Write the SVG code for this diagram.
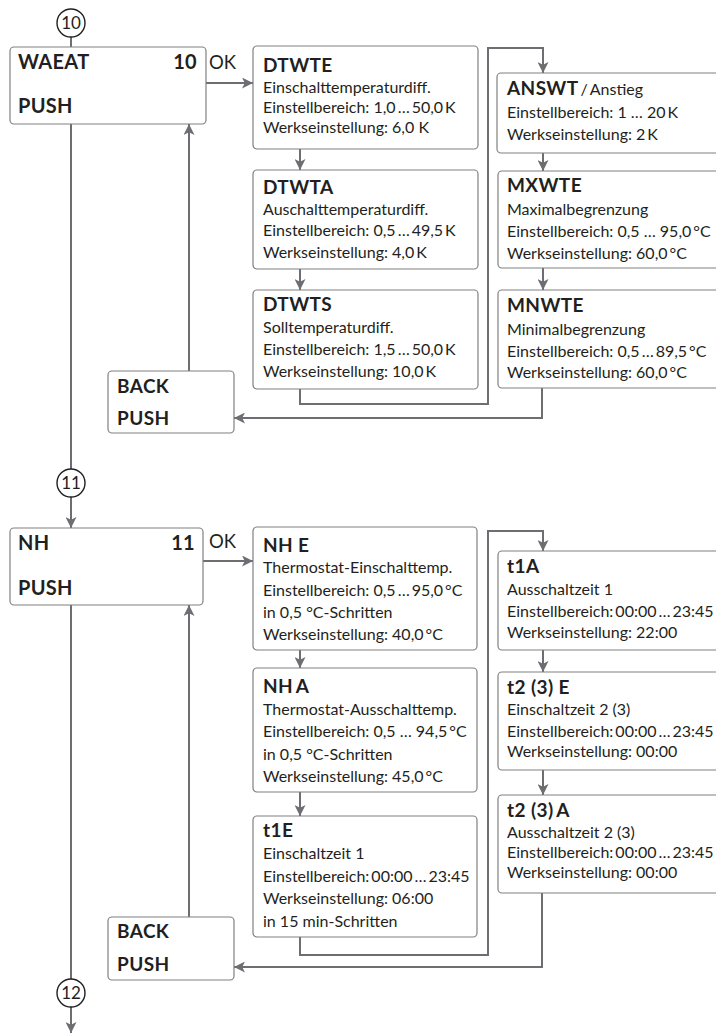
<svg xmlns="http://www.w3.org/2000/svg" width="716" height="1034" viewBox="0 0 716 1034">
<defs>
<style>
.box{fill:#fff;stroke:#808080;stroke-width:1.2}
.t{font-family:Lato,"Open Sans","Liberation Sans",sans-serif;font-size:16px;fill:#231f20}
.h{font-weight:bold;font-size:19px;letter-spacing:0.4px}
.big{font-weight:bold;font-size:20px;letter-spacing:0.3px}
.ok{font-size:18.5px}
.num{font-size:17px;text-anchor:middle}
.conn{fill:none;stroke:#6d6e71;stroke-width:2}
.thin{fill:none;stroke:#231f20;stroke-width:1.3}
.circ{fill:#fff;stroke:#231f20;stroke-width:1.4}
</style>
<marker id="ah" viewBox="0 0 10 10" refX="10" refY="5" markerWidth="11" markerHeight="11" markerUnits="userSpaceOnUse" orient="auto">
<path d="M0,0 L10,5 L0,10 L2.5,5 z" fill="#6d6e71"/>
</marker>
</defs>
<rect width="716" height="1034" fill="#fff"/>

<g id="connectors">
<line class="thin" x1="71" y1="37" x2="71" y2="47"/>
<line class="conn" x1="206" y1="83" x2="253" y2="83" marker-end="url(#ah)"/>
<line class="conn" x1="71" y1="124" x2="71" y2="469"/>
<line class="conn" x1="189" y1="371" x2="189" y2="124" marker-end="url(#ah)"/>
<line class="conn" x1="300" y1="149" x2="300" y2="170" marker-end="url(#ah)"/>
<line class="conn" x1="300" y1="269" x2="300" y2="290" marker-end="url(#ah)"/>
<path class="conn" d="M300,389 V404 H488 V48 H543 V73" marker-end="url(#ah)"/>
<line class="conn" x1="543" y1="153" x2="543" y2="171" marker-end="url(#ah)"/>
<line class="conn" x1="543" y1="268" x2="543" y2="290" marker-end="url(#ah)"/>
<path class="conn" d="M542,388 V418 H234" marker-end="url(#ah)"/>

<line class="conn" x1="71" y1="497" x2="71" y2="528" marker-end="url(#ah)"/>
<line class="conn" x1="203" y1="561" x2="253" y2="561" marker-end="url(#ah)"/>
<line class="conn" x1="71" y1="605" x2="71" y2="979"/>
<line class="conn" x1="189" y1="917" x2="189" y2="605" marker-end="url(#ah)"/>
<line class="conn" x1="300" y1="650" x2="300" y2="668" marker-end="url(#ah)"/>
<line class="conn" x1="300" y1="792" x2="300" y2="816" marker-end="url(#ah)"/>
<path class="conn" d="M300,937 V955 H488 V531 H543 V551" marker-end="url(#ah)"/>
<line class="conn" x1="543" y1="650" x2="543" y2="672" marker-end="url(#ah)"/>
<line class="conn" x1="543" y1="770" x2="543" y2="795" marker-end="url(#ah)"/>
<path class="conn" d="M542,893 V967 H234" marker-end="url(#ah)"/>
<line class="conn" x1="71" y1="1007" x2="71" y2="1033" marker-end="url(#ah)"/>
</g>

<g id="c10"><circle class="circ" cx="71" cy="23" r="14"/><text class="t num" x="71" y="29">10</text></g>
<g id="c11"><circle class="circ" cx="71" cy="483" r="14"/><text class="t num" x="71" y="489">11</text></g>
<g id="c12"><circle class="circ" cx="71" cy="993" r="14"/><text class="t num" x="71" y="999">12</text></g>

<g id="waeat">
<rect class="box" x="10" y="47" width="196" height="77" rx="4"/>
<text class="t big" x="18" y="69">WAEAT</text>
<text class="t big" x="197" y="69" text-anchor="end">10</text>
<text class="t big" x="18" y="113">PUSH</text>
</g>
<text class="t ok" x="209" y="69">OK</text>

<g id="dtwte">
<rect class="box" x="253" y="46" width="225" height="103" rx="4"/>
<text class="t h" x="263" y="72">DTWTE</text>
<text class="t" x="263" y="93">Einschalttemperaturdiff.</text>
<text class="t" x="263" y="113">Einstellbereich: 1,0&#8201;…&#8201;50,0&#8201;K</text>
<text class="t" x="263" y="133">Werkseinstellung: 6,0 K</text>
</g>
<g id="dtwta">
<rect class="box" x="253" y="170" width="225" height="99" rx="4"/>
<text class="t h" x="263" y="194">DTWTA</text>
<text class="t" x="263" y="215">Auschalttemperaturdiff.</text>
<text class="t" x="263" y="236">Einstellbereich: 0,5&#8201;…&#8201;49,5&#8201;K</text>
<text class="t" x="263" y="258">Werkseinstellung: 4,0&#8201;K</text>
</g>
<g id="dtwts">
<rect class="box" x="253" y="290" width="225" height="99" rx="4"/>
<text class="t h" x="263" y="311">DTWTS</text>
<text class="t" x="263" y="333">Solltemperaturdiff.</text>
<text class="t" x="263" y="355">Einstellbereich: 1,5&#8201;…&#8201;50,0&#8201;K</text>
<text class="t" x="263" y="377">Werkseinstellung: 10,0&#8201;K</text>
</g>
<g id="back1">
<rect class="box" x="108" y="371" width="126" height="62" rx="4"/>
<text class="t h" x="117" y="393">BACK</text>
<text class="t h" x="117" y="425">PUSH</text>
</g>
<g id="answt">
<rect class="box" x="497" y="73" width="230" height="80" rx="4"/>
<text class="t" x="507" y="95"><tspan class="h">ANSWT</tspan>&#8201;/&#8201;Anstieg</text>
<text class="t" x="507" y="118">Einstellbereich: 1 … 20&#8201;K</text>
<text class="t" x="507" y="140">Werkseinstellung: 2&#8201;K</text>
</g>
<g id="mxwte">
<rect class="box" x="498" y="171" width="230" height="97" rx="4"/>
<text class="t h" x="507" y="192">MXWTE</text>
<text class="t" x="507" y="215">Maximalbegrenzung</text>
<text class="t" x="507" y="237">Einstellbereich: 0,5 … 95,0&#8201;°C</text>
<text class="t" x="507" y="259">Werkseinstellung: 60,0&#8201;°C</text>
</g>
<g id="mnwte">
<rect class="box" x="498" y="290" width="230" height="98" rx="4"/>
<text class="t h" x="507" y="312">MNWTE</text>
<text class="t" x="507" y="335">Minimalbegrenzung</text>
<text class="t" x="507" y="357">Einstellbereich: 0,5&#8201;…&#8201;89,5&#8201;°C</text>
<text class="t" x="507" y="378">Werkseinstellung: 60,0&#8201;°C</text>
</g>

<g id="nh">
<rect class="box" x="10" y="528" width="193" height="77" rx="4"/>
<text class="t big" x="18" y="550">NH</text>
<text class="t big" x="195" y="550" text-anchor="end">11</text>
<text class="t big" x="18" y="595">PUSH</text>
</g>
<text class="t ok" x="209" y="548">OK</text>

<g id="nhe">
<rect class="box" x="253" y="527" width="224" height="123" rx="4"/>
<text class="t h" x="263" y="552">NH E</text>
<text class="t" x="263" y="573">Thermostat-Einschalttemp.</text>
<text class="t" x="263" y="596">Einstellbereich: 0,5&#8201;…&#8201;95,0&#8201;°C</text>
<text class="t" x="263" y="618">in 0,5 °C-Schritten</text>
<text class="t" x="263" y="640">Werkseinstellung: 40,0&#8201;°C</text>
</g>
<g id="nha">
<rect class="box" x="253" y="668" width="224" height="124" rx="4"/>
<text class="t h" x="263" y="693">NH&#8201;A</text>
<text class="t" x="263" y="715">Thermostat-Ausschalttemp.</text>
<text class="t" x="263" y="737">Einstellbereich: 0,5 … 94,5&#8201;°C</text>
<text class="t" x="263" y="760">in 0,5 °C-Schritten</text>
<text class="t" x="263" y="782">Werkseinstellung: 45,0&#8201;°C</text>
</g>
<g id="t1e">
<rect class="box" x="253" y="816" width="224" height="121" rx="4"/>
<text class="t h" x="263" y="837">t1E</text>
<text class="t" x="263" y="859">Einschaltzeit 1</text>
<text class="t" x="263" y="882">Einstellbereich:&#8201;00:00&#8201;…&#8201;23:45</text>
<text class="t" x="263" y="904">Werkseinstellung: 06:00</text>
<text class="t" x="263" y="927">in 15 min-Schritten</text>
</g>
<g id="back2">
<rect class="box" x="108" y="917" width="126" height="63" rx="4"/>
<text class="t h" x="117" y="938">BACK</text>
<text class="t h" x="117" y="971">PUSH</text>
</g>
<g id="t1a">
<rect class="box" x="498" y="551" width="230" height="99" rx="4"/>
<text class="t h" x="507" y="573">t1A</text>
<text class="t" x="507" y="595">Ausschaltzeit 1</text>
<text class="t" x="507" y="617">Einstellbereich:&#8201;00:00&#8201;…&#8201;23:45</text>
<text class="t" x="507" y="638">Werkseinstellung: 22:00</text>
</g>
<g id="t2e">
<rect class="box" x="498" y="672" width="230" height="98" rx="4"/>
<text class="t h" x="507" y="694">t2 (3) E</text>
<text class="t" x="507" y="715">Einschaltzeit 2 (3)</text>
<text class="t" x="507" y="737">Einstellbereich:&#8201;00:00&#8201;…&#8201;23:45</text>
<text class="t" x="507" y="757">Werkseinstellung: 00:00</text>
</g>
<g id="t2a">
<rect class="box" x="498" y="795" width="230" height="98" rx="4"/>
<text class="t h" x="507" y="817">t2 (3)&#8201;A</text>
<text class="t" x="507" y="838">Ausschaltzeit 2 (3)</text>
<text class="t" x="507" y="858">Einstellbereich:&#8201;00:00&#8201;…&#8201;23:45</text>
<text class="t" x="507" y="878">Werkseinstellung: 00:00</text>
</g>
</svg>
